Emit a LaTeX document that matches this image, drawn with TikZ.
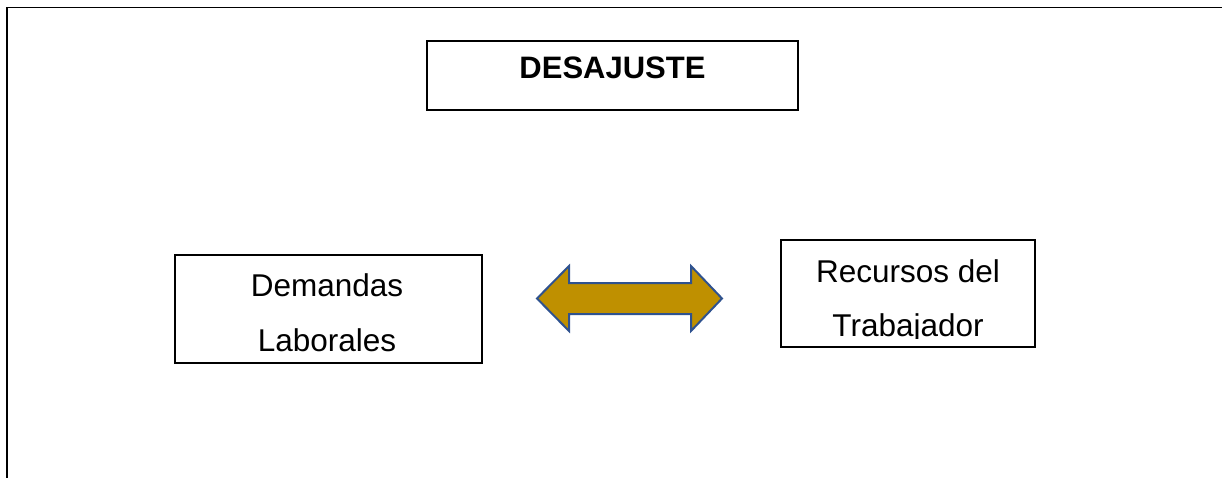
\documentclass[tikz,border=0pt]{standalone}
\usepackage{fontspec}
\setmainfont{Liberation Sans}
\begin{document}
\begin{tikzpicture}[x=1pt,y=-1pt,
  frame/.style={line width=1.6pt,black},
  box/.style={draw=black,line width=1.5pt,rectangle,inner sep=0pt},
  label/.style={anchor=base,inner sep=0pt,font=\fontsize{31.5}{37}\selectfont},
  dblarrow/.style={fill={rgb,255:red,191;green,144;blue,0},draw={rgb,255:red,47;green,82;blue,143},line width=2pt,line join=miter}]
  \useasboundingbox (0,0) rectangle (1222,478);
  % open page frame: top and left edges only
  \draw[frame] (7,478) -- (7,7.5) -- (1222,7.5);

  % title box
  \node[box,minimum width=371pt,minimum height=69pt] (title) at (612.5,75.5) {};
  \node[label,font=\fontsize{31}{37}\selectfont\bfseries] (titletext) at (612.5,79) {DESAJUSTE};

  % left box
  \node[box,minimum width=307pt,minimum height=108pt] (dem) at (328.5,309) {};
  \node[label] (dem1) at (327,296) {Demandas};
  \node[label] (dem2) at (327,351) {Laborales};

  % right box (second line cut at the text frame)
  \node[box,minimum width=254pt,minimum height=107pt] (rec) at (908,293.5) {};
  \begin{scope}
    \clip (782,241) rectangle (1034,338);
    \node[label] (rec1) at (908,282) {Recursos del};
    \node[label] (rec2) at (908,336) {Trabajador};
  \end{scope}

  % two-headed block arrow between the boxes
  \draw[dblarrow] (537,298.5) -- (569,266) -- (569,283) -- (691,283) -- (691,266)
    -- (722,298.5) -- (691,331) -- (691,314) -- (569,314) -- (569,331) -- cycle;
\end{tikzpicture}
\end{document}
